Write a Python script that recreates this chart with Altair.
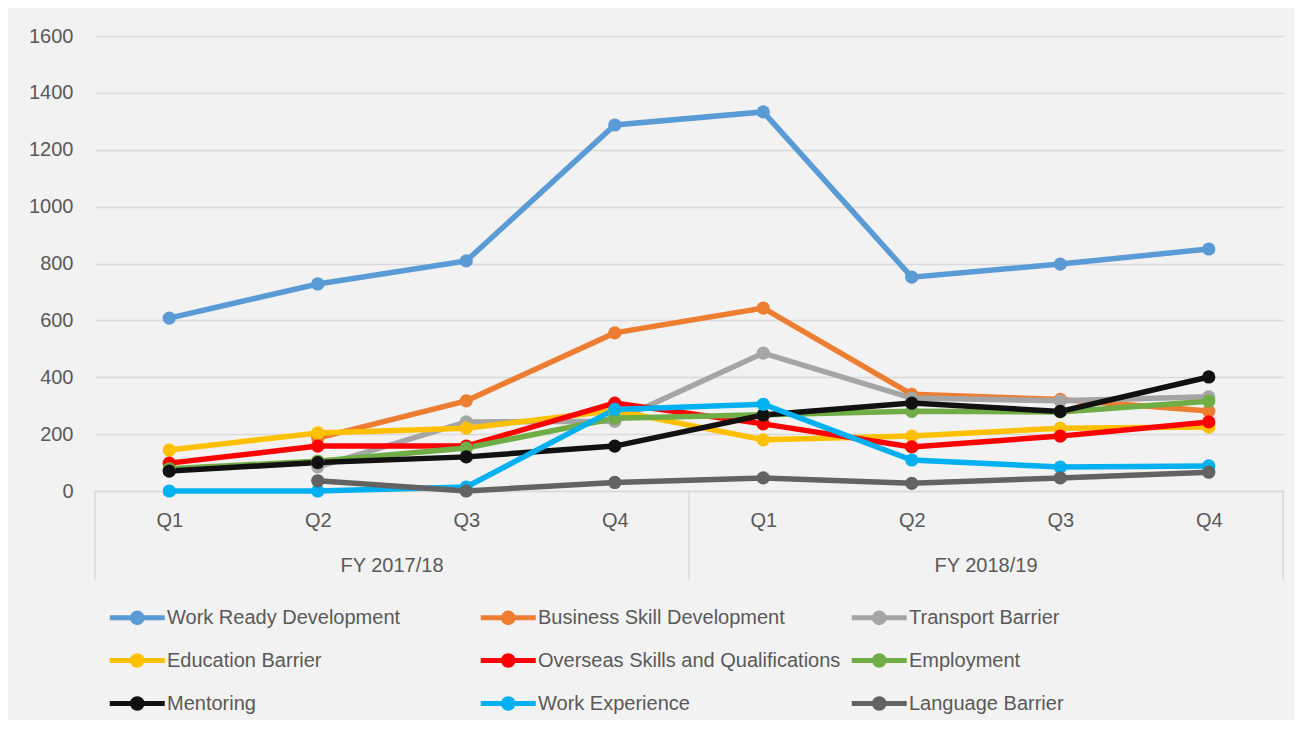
import altair as alt
import pandas as pd

quarters = ["Q1", "Q2", "Q3", "Q4", "Q1", "Q2", "Q3", "Q4"]
fiscal_years = ["FY 2017/18", "FY 2018/19"]

series_names = [
    "Work Ready Development",
    "Business Skill Development",
    "Transport Barrier",
    "Education Barrier",
    "Overseas Skills and Qualifications",
    "Employment",
    "Mentoring",
    "Work Experience",
    "Language Barrier",
]
series_colors = [
    "#5B9BD5", "#ED7D31", "#A5A5A5", "#FFC000", "#FF0000",
    "#70AD47", "#111111", "#00B0F0", "#636363",
]

work_ready = [608, 728, 809, 1287, 1333, 752, 798, 851]
business_skill = [None, 186, 317, 556, 643, 340, 322, 281]
transport = [None, 85, 243, 245, 485, 327, 317, 331]
education = [144, 204, 221, 283, 180, 193, 221, 225]
overseas = [98, 158, 158, 309, 236, 155, 193, 243]
employment = [78, 105, 151, 256, 268, 280, 278, 316]
mentoring = [70, 100, 120, 158, 267, 309, 280, 401]
work_experience = [0, 0, 14, 287, 305, 109, 84, 88]
language = [None, 36, 0, 30, 46, 27, 46, 66]

all_values = [work_ready, business_skill, transport, education, overseas,
              employment, mentoring, work_experience, language]

rows = []
for name, vals in zip(series_names, all_values):
    for i, v in enumerate(vals):
        rows.append({"series": name, "idx": i, "value": v})
df = pd.DataFrame(rows)

groups_df = pd.DataFrame({"label": fiscal_years, "pos": [1.5, 5.5]})
sep_df = pd.DataFrame({"pos": [-0.5, 3.5, 7.5]})

W, H = 1188, 455
FONT = "Liberation Sans"
TXT = "#595959"
GRID = "#D9D9D9"

label_expr = "[" + ",".join("'%s'" % q for q in quarters) + "][datum.value]"

xscale = alt.Scale(domain=[-0.5, 7.5], nice=False, zero=False)

# line from x=-1..3 (units) with a filled dot at x=1, drawn with a thick stroke
legend_path = ("M-1,0L3,0"
               "M1.35,0A0.35,0.35,0,1,1,0.65,0A0.35,0.35,0,1,1,1.35,0"
               "M1.18,0A0.18,0.18,0,1,1,0.82,0A0.18,0.18,0,1,1,1.18,0")

lines = alt.Chart(df).mark_line(
    strokeWidth=5.5,
    point=alt.OverlayMarkDef(filled=True, size=175, opacity=1),
).encode(
    x=alt.X("idx:Q", scale=xscale, title=None,
            axis=alt.Axis(values=list(range(8)), labelExpr=label_expr,
                          ticks=False, grid=False, domainColor=GRID,
                          domainWidth=1.5, labelPadding=19,
                          labelFontSize=20, labelColor=TXT, labelFont=FONT)),
    y=alt.Y("value:Q", scale=alt.Scale(domain=[0, 1600], nice=False),
            title=None,
            axis=alt.Axis(values=list(range(0, 1601, 200)), ticks=False,
                          format="d",
                          domain=False, gridColor=GRID, gridWidth=1.5,
                          labelPadding=22, labelFontSize=20,
                          labelColor=TXT, labelFont=FONT)),
    color=alt.Color("series:N",
                    scale=alt.Scale(domain=series_names, range=series_colors),
                    sort=series_names,
                    legend=alt.Legend(
                        title=None, orient="none", legendX=12, legendY=565,
                        direction="horizontal",
                        columns=3, gridAlign="all", columnPadding=0,
                        rowPadding=11, symbolType=legend_path,
                        symbolSize=756, symbolStrokeWidth=5,
                        labelOffset=27, labelFontSize=20, labelColor=TXT,
                        labelFont=FONT, labelLimit=400)),
)

group_text = alt.Chart(groups_df).mark_text(
    fontSize=20, font=FONT, color=TXT, baseline="middle", align="center"
).encode(
    x=alt.X("pos:Q", scale=xscale),
    y=alt.value(H + 75),
    text="label:N",
)

seps = alt.Chart(sep_df).mark_rule(color=GRID, strokeWidth=1.5).encode(
    x=alt.X("pos:Q", scale=xscale),
    y=alt.value(H),
    y2=alt.value(H + 89),
)

chart = alt.layer(seps, lines, group_text).properties(
    width=W, height=H,
    autosize=alt.AutoSizeParams(type="none"),
    padding={"left": 87, "top": 28, "right": 12, "bottom": 229},
    background="#F2F2F2",
).configure_view(stroke=None)

chart.save("out.html", embed_options={"renderer": "svg", "actions": False})
